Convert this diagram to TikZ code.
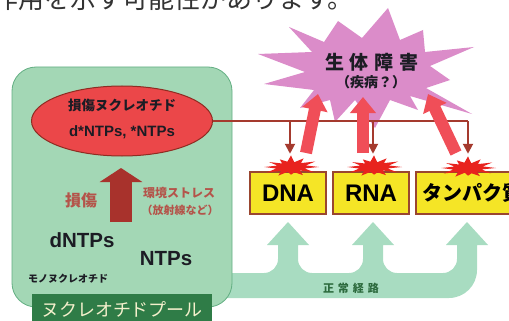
\documentclass[tikz,border=0pt]{standalone}
\usepackage{fontspec}
\setmainfont{Liberation Sans}
\newfontfamily\jp{Noto Sans CJK JP}
\usetikzlibrary{arrows.meta,shapes.geometric}

\definecolor{poolgreen}{HTML}{A3D7B5}
\definecolor{pooledge}{HTML}{62AE82}
\definecolor{flowgreen}{HTML}{A8DCC1}
\definecolor{labelgreen}{HTML}{2F7C47}
\definecolor{labeltext}{HTML}{F4F0CC}
\definecolor{dmgred}{HTML}{EB4749}
\definecolor{dmgedge}{HTML}{8E2C22}
\definecolor{darkred}{HTML}{A8322C}
\definecolor{brownred}{HTML}{B4544A}
\definecolor{linered}{HTML}{A53A2E}
\definecolor{hitred}{HTML}{F04E58}
\definecolor{burstred}{HTML}{E8231E}
\definecolor{pinkstar}{HTML}{DB8CC9}
\definecolor{boxyellow}{HTML}{F5E526}
\definecolor{boxedge}{HTML}{9A4630}
\definecolor{pathtext}{HTML}{2D6B3E}
\definecolor{inktext}{HTML}{1C1C24}

\tikzset{
  fs/.style={font=#1},
  poolbox/.style={draw=pooledge, line width=0.8pt, fill=poolgreen, rounded corners=24pt, inner sep=0pt},
  poollabel/.style={fill=labelgreen, text=labeltext, inner sep=0pt, minimum width=180pt, minimum height=30pt},
  dmgnode/.style={ellipse, draw=dmgedge, line width=1pt, fill=dmgred, inner sep=0pt, minimum width=181pt, minimum height=70pt},
  plain/.style={inner sep=0pt},
  stressarrow/.style={darkred, line width=22pt, -{Triangle[width=42pt,length=14pt]}},
  dmgline/.style={linered, line width=2pt},
  droparrow/.style={linered, line width=2pt, -{Triangle[width=10pt,length=10pt]}},
  hitarrow/.style={hitred, line width=12pt, -{Triangle[width=25pt,length=16pt]}},
  seqbox/.style={draw=boxedge, line width=2.5pt, fill=boxyellow, minimum height=42pt, inner sep=0pt},
  flow/.style={fill=flowgreen},
}

\begin{document}
\begin{tikzpicture}[x=1pt,y=-1pt]
\useasboundingbox (0,0) rectangle (509,321);

% running text line above the figure
\node[plain, anchor=base west, text=black!80] (topline) at (-8,9)
  {\fontsize{26}{26}\selectfont\jp 作用を示す可能性があります。};

% normal pathway: one band with three upward arrows
\fill[flow] (195,273) [sharp corners] -- (240,273)
  [rounded corners=14pt] -- (278,273) -- (278,258)
  [sharp corners] -- (278,245) -- (267,245) -- (288,222) -- (309,245) -- (298,245) -- (298,258)
  [rounded corners=14pt] -- (298,273) -- (330,273) -- (363,273) -- (363,258)
  [sharp corners] -- (363,245) -- (352,245) -- (373,222) -- (394,245) -- (383,245) -- (383,258)
  [rounded corners=14pt] -- (383,273) -- (420,273) -- (457,273) -- (457,258)
  [sharp corners] -- (457,245) -- (446,245) -- (467,222) -- (488,245) -- (477,245) -- (477,262)
  [rounded corners=28pt] -- (477,298) -- (330,298)
  [sharp corners] -- (195,298) -- cycle;

% nucleotide pool
\node[poolbox, minimum width=220pt, minimum height=240pt] (pool) at (122,187) {};
\node[poollabel] (plabel) at (122,309) {\fontsize{18}{18}\selectfont\jp ヌクレオチドプール};

% damaged nucleotides
\node[dmgnode] (dmg) at (122,121) {};
\node[plain, text=inktext] (dmgA) at (122,105) {\fontsize{13.5}{14}\selectfont\jp\bfseries 損傷ヌクレオチド};
\node[plain, text=inktext] (dmgB) at (122,132) {\fontsize{15}{15}\selectfont\bfseries d*NTPs, *NTPs};

% damage by environmental stress
\coordinate (stressS) at (121,222);
\coordinate (stressE) at (121,168);
\draw[stressarrow] (stressS) -- (stressE);
\node[plain, text=brownred] (dmgword) at (81,200) {\fontsize{16}{16}\selectfont\jp\bfseries 損傷};
\node[plain, text=brownred] (stressA) at (179,193) {\fontsize{12}{12}\selectfont\jp\bfseries 環境ストレス};
\node[plain, text=brownred] (stressB) at (180,210) {\fontsize{11}{11}\selectfont\jp\bfseries （放射線など）};

% pool contents
\node[plain, text=inktext] (dntp) at (82,240) {\fontsize{20.5}{20}\selectfont\bfseries dNTPs};
\node[plain, text=inktext] (ntp) at (166,259) {\fontsize{20.5}{20}\selectfont\bfseries NTPs};
\node[plain, text=inktext] (mono) at (68,279) {\fontsize{10}{10}\selectfont\jp\bfseries モノヌクレオチド};

% normal pathway label
\node[plain, text=pathtext] (normal) at (351,288)
  {\fontsize{11}{11}\selectfont\jp\bfseries 正\hspace{4pt}常\hspace{4pt}経\hspace{4pt}路};

% biological harm burst
\fill[pinkstar] (258,54) -- (312,52) -- (289,27) -- (324,42) -- (338,21) -- (362,38) -- (388,8)
  -- (400,40) -- (423,30) -- (425,52) -- (474,47) -- (430,66) -- (450,80) -- (426,88)
  -- (472,114) -- (410,96) -- (418,110) -- (390,100) -- (375,128) -- (355,100) -- (335,122)
  -- (330,100) -- (300,108) -- (314,90) -- (264,84) -- (305,72) -- cycle;
\node[plain, text=inktext] (harmA) at (372,62)
  {\fontsize{19}{19}\selectfont\jp\bfseries 生\hspace{6pt}体\hspace{6pt}障\hspace{6pt}害};
\node[plain, text=inktext] (harmB) at (371,82) {\fontsize{14}{14}\selectfont\jp\bfseries （疾病？）};

% targets
\node[seqbox, minimum width=76pt] (dna) at (288,193) {\fontsize{24}{24}\selectfont\bfseries DNA};
\node[seqbox, minimum width=76pt] (rna) at (371,193) {\fontsize{24}{24}\selectfont\bfseries RNA};
\node[seqbox, minimum width=112pt] (prot) at (472,193) {\fontsize{20}{20}\selectfont\jp\bfseries タンパク質};

% damaged nucleotides reach the targets
\coordinate (j1) at (290,121);
\coordinate (j2) at (373,121);
\coordinate (j3) at (468,121);
\draw[dmgline] (dmg.east) -- (j3);
\draw[droparrow, shorten >=17pt] (j1) -- (j1 |- dna.north);
\draw[droparrow, shorten >=17pt] (j2) -- (j2 |- rna.north);
\draw[droparrow, shorten >=17pt] (j3) -- (j3 |- prot.north);

% hit marks on the targets
\coordinate (bd1) at (291,167);
\coordinate (bd2) at (374,167);
\coordinate (bd3) at (468,168);
\foreach \c in {bd1,bd2,bd3}{
  \fill[burstred, shift={(\c)}, xscale=28, yscale=11] (0:1)
    \foreach \a/\r in {15/.5,30/.95,45/.45,60/.85,75/.5,90/.7,105/.45,120/.9,135/.5,150/1,
                       165/.55,180/.95,195/.5,210/.9,225/.45,240/.8,255/.5,270/1.05,285/.45,
                       300/.9,315/.5,330/1.0,345/.55} { -- (\a:\r) } -- cycle;
}

% consequences toward biological harm
\coordinate (h1s) at (306,153);
\coordinate (h1e) at (318,94);
\coordinate (h2s) at (363,153);
\coordinate (h2e) at (363,97);
\coordinate (h3s) at (456,153);
\coordinate (h3e) at (428,94);
\draw[hitarrow] (h1s) -- (h1e);
\draw[hitarrow] (h2s) -- (h2e);
\draw[hitarrow] (h3s) -- (h3e);
\end{tikzpicture}
\end{document}
